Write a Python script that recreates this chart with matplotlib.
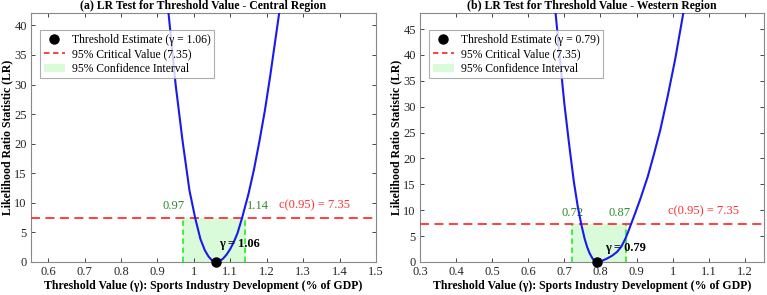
import matplotlib
matplotlib.use("Agg")
import matplotlib.pyplot as plt
from matplotlib.lines import Line2D
from matplotlib.patches import Patch

plt.rcParams['font.family'] = ['Liberation Serif', 'DejaVu Serif']

# --- data ---
# (a) Central region
central_gamma = [0.920, 0.930, 0.950, 0.969, 0.988, 1.004, 1.018, 1.030, 1.040, 1.050,
                 1.060, 1.070, 1.080, 1.090, 1.100, 1.110, 1.120, 1.132, 1.150, 1.165,
                 1.180, 1.195, 1.210, 1.235, 1.245]
central_lr = [48.6, 42.4, 30.0, 20.5, 12.1, 7.35, 3.9, 2.0, 0.95, 0.25,
              0.0, 0.13, 0.55, 1.25, 2.2, 3.4, 4.9, 7.35, 11.5, 15.6,
              20.4, 25.6, 31.6, 42.4, 47.0]
central_est = 1.06
central_ci = (0.97, 1.14)

# (b) Western region
western_gamma = [0.665, 0.675, 0.690, 0.700, 0.713, 0.726, 0.737, 0.747, 0.756, 0.763,
                 0.770, 0.779, 0.785, 0.791, 0.800, 0.818, 0.832, 0.846, 0.858, 0.869,
                 0.876, 0.883, 0.897, 0.9105, 0.931, 0.948, 0.966, 0.987, 1.007, 1.030,
                 1.040]
western_lr = [57.0, 48.5, 37.5, 30.5, 22.8, 15.6, 10.7, 7.2, 4.5, 2.9,
              1.65, 0.55, 0.14, 0.0, 0.08, 0.66, 1.2, 1.95, 3.0, 4.5,
              5.7, 7.0, 9.6, 12.2, 16.5, 20.8, 25.6, 32.3, 39.2, 48.3,
              52.5]
western_est = 0.79
western_ci = (0.72, 0.87)

crit_val = 7.35

panels = [
    dict(title="(a) LR Test for Threshold Value - Central Region",
         gamma=central_gamma, lr=central_lr, est=central_est, ci=central_ci,
         xlim=(0.553, 1.5), ylim=(0, 42.1),
         xticks=[0.6, 0.7, 0.8, 0.9, 1.0, 1.1, 1.2, 1.3, 1.4, 1.5],
         yticks=[0, 5, 10, 15, 20, 25, 30, 35, 40],
         lo_lab=(0.944, 9.5), hi_lab=(1.175, 9.5), crit_lab=(1.33, 9.5),
         est_lab=(1.125, 3.1), pos=[0.0404, 0.112, 0.4498, 0.844]),
    dict(title="(b) LR Test for Threshold Value - Western Region",
         gamma=western_gamma, lr=western_lr, est=western_est, ci=western_ci,
         xlim=(0.3, 1.253), ylim=(0, 48.1),
         xticks=[0.3, 0.4, 0.5, 0.6, 0.7, 0.8, 0.9, 1.0, 1.1, 1.2],
         yticks=[0, 5, 10, 15, 20, 25, 30, 35, 40, 45],
         lo_lab=(0.7225, 9.5), hi_lab=(0.854, 9.5), crit_lab=(1.084, 9.7),
         est_lab=(0.868, 2.7), pos=[0.5476, 0.112, 0.4485, 0.844]),
]

fig = plt.figure(figsize=(7.67, 2.95), dpi=100)

def fmt(v):
    s = f"{v:.1f}"
    return s[:-2] if s.endswith(".0") else s

for p in panels:
    ax = fig.add_axes(p['pos'])
    lo, hi = p['ci']
    ax.fill_between([lo, hi], 0, crit_val, color='#d9fbd9', zorder=1)
    ax.plot([lo, lo], [0, crit_val], color='#33ee33', ls=(0, (3, 2)), lw=1.3, zorder=2)
    ax.plot([hi, hi], [0, crit_val], color='#33ee33', ls=(0, (3, 2)), lw=1.3, zorder=2)
    ax.axhline(crit_val, color='#ff3030', ls=(0, (5, 3)), lw=1.3, zorder=3)
    ax.plot(p['gamma'], p['lr'], color='#1a1aee', lw=1.5, zorder=4)
    ax.plot([p['est']], [0], 'o', color='black', ms=6.5, zorder=6, clip_on=False)

    ax.text(*p['lo_lab'], f"{lo:.2f}", color='#2e8b2e', fontsize=9, ha='center', va='center')
    ax.text(*p['hi_lab'], f"{hi:.2f}", color='#2e8b2e', fontsize=9, ha='center', va='center')
    ax.text(*p['crit_lab'], f"c(0.95) = {crit_val:.2f}", color='#ff3030', fontsize=9,
            ha='center', va='center')
    ax.text(*p['est_lab'], f"γ = {p['est']:.2f}", color='black', fontsize=9,
            fontweight='bold', ha='center', va='center', zorder=7)

    ax.set_xlim(*p['xlim'])
    ax.set_ylim(*p['ylim'])
    ax.set_xticks(p['xticks'])
    ax.set_xticklabels([fmt(v) for v in p['xticks']])
    ax.set_yticks(p['yticks'])
    ax.tick_params(direction='in', length=3, width=0.6, top=True, right=True,
                   labelsize=9, colors='#262626', pad=3)
    for s in ax.spines.values():
        s.set_color('#888888')
        s.set_linewidth(0.8)

    ax.set_title(p['title'], fontsize=8.5, fontweight='bold', pad=3)
    ax.set_xlabel("Threshold Value (γ): Sports Industry Development (% of GDP)",
                  fontsize=8.5, fontweight='bold', labelpad=1)
    ax.set_ylabel("Likelihood Ratio Statistic (LR)", fontsize=8.5, fontweight='bold', labelpad=1)

    handles = [
        Line2D([], [], marker='o', color='black', ls='none', ms=6.5),
        Line2D([], [], color='#ff3030', ls=(0, (3, 2)), lw=1.3),
        Patch(facecolor='#d9fbd9', edgecolor='none'),
    ]
    labels = [f"Threshold Estimate (γ = {p['est']:.2f})",
              f"95% Critical Value ({crit_val:.2f})",
              "95% Confidence Interval"]
    leg = ax.legend(handles, labels, loc='upper left', bbox_to_anchor=(0.02, 0.94),
                    fontsize=8.4, frameon=True, fancybox=False, borderpad=0.3,
                    labelspacing=0.22, handlelength=1.8, handletextpad=0.6,
                    borderaxespad=0.2)
    leg.get_frame().set_edgecolor('#999999')
    leg.get_frame().set_linewidth(0.8)

fig.savefig("out.png", dpi=100)
